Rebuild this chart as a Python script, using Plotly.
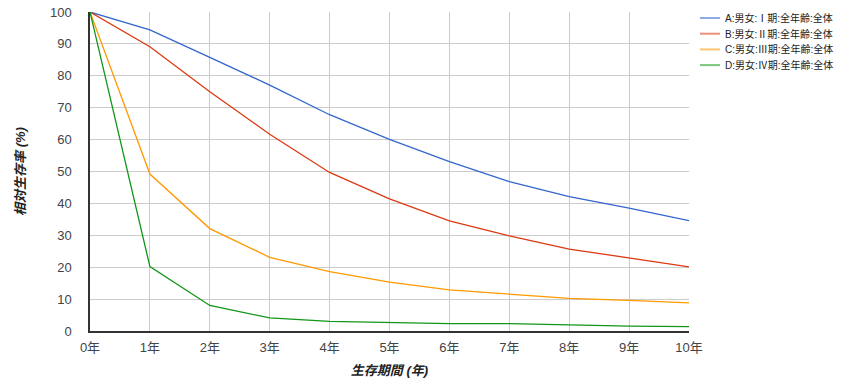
import plotly.graph_objects as go

years = [0, 1, 2, 3, 4, 5, 6, 7, 8, 9, 10]
year_labels = [f"{y}年" for y in years]

series_names = [
    "A:男女:Ⅰ期:全年齢:全体",
    "B:男女:Ⅱ期:全年齢:全体",
    "C:男女:Ⅲ期:全年齢:全体",
    "D:男女:Ⅳ期:全年齢:全体",
]
stage1 = [100, 94.4, 85.8, 77.1, 67.8, 60.1, 53.1, 46.8, 42.1, 38.5, 34.6]
stage2 = [100, 89.1, 75.0, 61.7, 49.7, 41.4, 34.5, 29.8, 25.7, 22.9, 20.1]
stage3 = [100, 49.2, 32.1, 23.1, 18.6, 15.3, 12.9, 11.5, 10.2, 9.6, 8.8]
stage4 = [100, 20.2, 8.0, 4.1, 3.0, 2.7, 2.3, 2.3, 1.8, 1.5, 1.4]
colors = ["#3366cc", "#dc3912", "#ff9900", "#109618"]

font_family = "Liberation Sans, Arial, Noto Sans CJK JP, sans-serif"

W, H = 866, 385
PX0, PX1, PY0, PY1 = 90, 689, 12, 331
ML, MR, MT, MB = PX0, W - PX1, PY0, H - PY1
PW, PH = PX1 - PX0, PY1 - PY0

fig = go.Figure()
for name, vals, c in zip(series_names, [stage1, stage2, stage3, stage4], colors):
    fig.add_trace(go.Scatter(x=years, y=vals, mode="lines", name=name,
                             line=dict(color=c, width=1.3), showlegend=False))

# manual legend (matches the compact spacing of the reference)
leg_x0 = (700 - ML) / PW
leg_x1 = (720 - ML) / PW
leg_tx = (723 - ML) / PW
for i, (name, c) in enumerate(zip(series_names, colors)):
    yy = 1 - (18 + 15.7 * i - MT) / PH
    fig.add_shape(type="line", xref="paper", yref="paper",
                  x0=leg_x0, x1=leg_x1, y0=yy, y1=yy,
                  line=dict(color=c, width=2), opacity=0.55)
    fig.add_annotation(xref="paper", yref="paper", x=leg_tx, y=yy,
                       xanchor="left", yanchor="middle", text=name,
                       showarrow=False, font=dict(size=10, color="#222222"))

fig.update_layout(
    width=W, height=H,
    margin=dict(l=ML, r=MR, t=MT, b=MB, autoexpand=False),
    paper_bgcolor="white", plot_bgcolor="white",
    font=dict(family=font_family, color="#444444", size=13),
    showlegend=False,
    xaxis=dict(
        range=[0, 10], tickmode="array", tickvals=years, ticktext=year_labels,
        showgrid=True, gridcolor="#cccccc", gridwidth=1,
        showline=True, linecolor="#333333", linewidth=1.5,
        zeroline=False, ticks="", ticklabelstandoff=4, automargin=False,
        ticklabeloverflow="allow",
        tickfont=dict(size=13, color="#444444"),
        title=dict(text="生存期間 (年)", standoff=12,
                   font=dict(size=13, color="#222222", style="italic", weight="bold")),
        fixedrange=True,
    ),
    yaxis=dict(
        range=[0, 100], tickmode="array", tickvals=list(range(0, 101, 10)),
        showgrid=True, gridcolor="#cccccc", gridwidth=1,
        showline=True, linecolor="#333333", linewidth=1.5,
        zeroline=False, ticks="", ticklabelstandoff=14, automargin=False,
        ticklabeloverflow="allow",
        tickfont=dict(size=13, color="#444444"),
        title=dict(text="相対生存率 (%)", standoff=21,
                   font=dict(size=13, color="#222222", style="italic", weight="bold")),
        fixedrange=True,
    ),
)

# remove the default 8px page margin so the figure sits at the window's top-left corner
fig.write_html("out.html", config={"displayModeBar": False},
               post_script="document.body.style.margin='0';")
